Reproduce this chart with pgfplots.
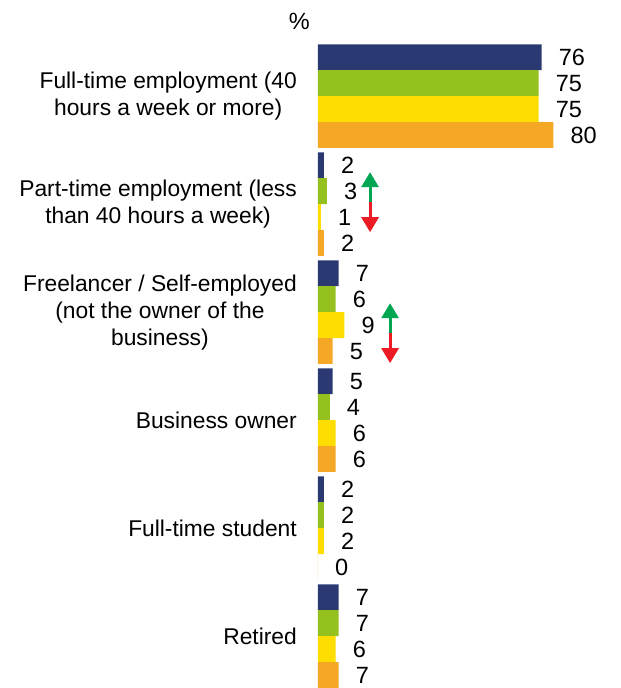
\documentclass[border=0pt]{standalone}
\usepackage{pgfplots}
\pgfplotsset{compat=1.18}
\usepackage{fontspec}
\setmainfont{Liberation Sans}
\usetikzlibrary{arrows.meta}
\definecolor{cnavy}{RGB}{43,57,114}
\definecolor{cgreen}{RGB}{149,193,31}
\definecolor{cyellow}{RGB}{255,221,0}
\definecolor{corange}{RGB}{245,168,38}
\definecolor{arrgreen}{RGB}{0,166,81}
\definecolor{arrred}{RGB}{237,28,36}
\begin{document}
\begin{tikzpicture}
\begin{axis}[
  scale only axis, width=303pt, height=643.7pt,
  xmin=0, xmax=103, ymin=-0.48, ymax=5.48, y dir=reverse,
  axis line style={draw=none}, major tick length=0pt, tick style={draw=none},
  xtick=\empty, ytick={0,1,2,3,4,5},
  yticklabels={{Full-time employment (40\\hours a week or more)},
               {Part-time employment (less\\than 40 hours a week)},
               {Freelancer / Self-employed\\(not the owner of the\\business)},
               {Business owner},
               {Full-time student},
               {Retired}},
  yticklabel style={align=center, font=\fontsize{22.8}{27}\selectfont, inner sep=0pt, xshift=-21pt},
  /pgf/number format/assume math mode=true,
  xbar, bar width=0.24,
  nodes near coords,
  every node near coord/.append style={anchor=west, inner sep=0pt, xshift=17pt, font=\fontsize{23.5}{27}\selectfont, text=black},
]
\addplot[xbar, bar shift=-0.36, fill=cnavy, draw=none] coordinates {(76,0) (2,1) (7,2) (5,3) (2,4) (7,5)};
\addplot[xbar, bar shift=-0.12, fill=cgreen, draw=none] coordinates {(75,0) (3,1) (6,2) (4,3) (2,4) (7,5)};
\addplot[xbar, bar shift=0.12, fill=cyellow, draw=none] coordinates {(75,0) (1,1) (9,2) (6,3) (2,4) (6,5)};
\addplot[xbar, bar shift=0.36, fill=corange, draw=none] coordinates {(80,0) (2,1) (5,2) (6,3) (0,4) (7,5)};
\draw[line width=3pt, arrgreen, -{Triangle[width=17pt,length=15pt]}] (axis cs:17.7,0.981) -- (axis cs:17.7,0.704);
\draw[line width=3pt, arrred, -{Triangle[width=17pt,length=15pt]}] (axis cs:17.7,0.981) -- (axis cs:17.7,1.26);
\draw[line width=3pt, arrgreen, -{Triangle[width=17pt,length=15pt]}] (axis cs:24.5,2.194) -- (axis cs:24.5,1.917);
\draw[line width=3pt, arrred, -{Triangle[width=17pt,length=15pt]}] (axis cs:24.5,2.194) -- (axis cs:24.5,2.472);
\end{axis}
\node[anchor=south east, inner sep=0pt, font=\fontsize{23.5}{27}\selectfont] at ([xshift=-8pt,yshift=14pt]current axis.north west) {\%};
\pgfresetboundingbox
\path (current axis.south west) ++(-318pt,0pt) rectangle ++(621pt,688pt);
\end{tikzpicture}
\end{document}
